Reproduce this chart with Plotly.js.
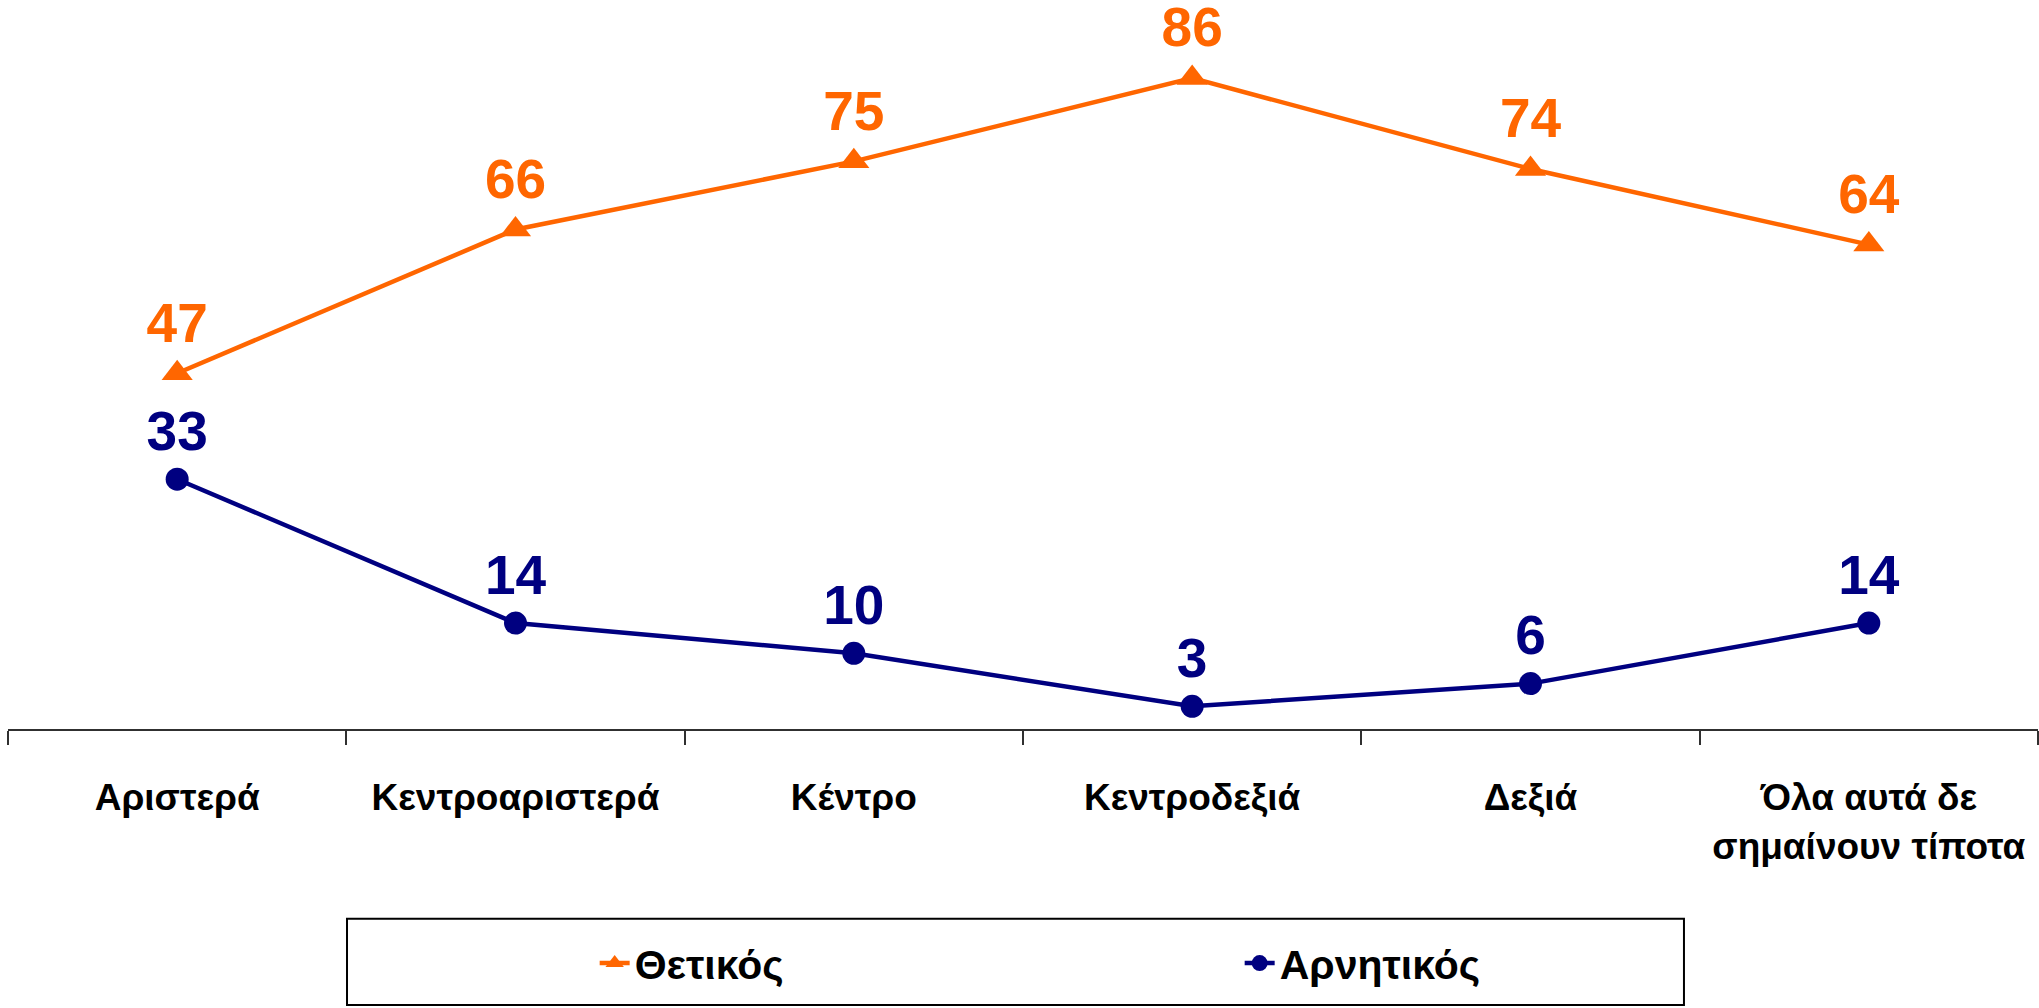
<!DOCTYPE html>
<html>
<head>
<meta charset="utf-8">
<script src="https://cdn.plot.ly/plotly-3.0.1.min.js"></script>
<style>
  html, body { margin: 0; padding: 0; background: #fff; }
  #chart { width: 2039px; height: 1008px; }
</style>
</head>
<body>
<div id="chart"></div>
<script>
const FONT_FAMILY = 'Liberation Sans, Arial, sans-serif';

const categories = [
  'Αριστερά',
  'Κεντροαριστερά',
  'Κέντρο',
  'Κεντροδεξιά',
  'Δεξιά',
  'Όλα αυτά δε<br>σημαίνουν τίποτα',
];
const positive = [47, 66, 75, 86, 74, 64];
const negative = [33, 14, 10, 3, 6, 14];
const seriesNames = ['Θετικός', 'Αρνητικός'];

const ORANGE = '#FF6600';
const NAVY = '#000080';

function labelFont(color) {
  return {family: FONT_FAMILY, size: 55, color: color, weight: 'bold'};
}

const traces = [
  {
    x: categories,
    y: positive,
    name: seriesNames[0],
    type: 'scatter',
    mode: 'lines+markers+text',
    text: positive.map(String),
    textposition: 'top center',
    textfont: labelFont(ORANGE),
    line: {color: ORANGE, width: 4.5},
    marker: {symbol: 'triangle-up', size: 27, color: ORANGE},
    cliponaxis: false,
    hoverinfo: 'x+y',
  },
  {
    x: categories,
    y: negative,
    name: seriesNames[1],
    type: 'scatter',
    mode: 'lines+markers+text',
    text: negative.map(String),
    textposition: 'top center',
    textfont: labelFont(NAVY),
    line: {color: NAVY, width: 4.5},
    marker: {symbol: 'circle', size: 23, color: NAVY},
    cliponaxis: false,
    hoverinfo: 'x+y',
  },
];

// plot area: x 8..2038 px, y 10..729 px
const layout = {
  width: 2039,
  height: 1008,
  margin: {l: 8, r: 1, t: 10, b: 279},
  paper_bgcolor: '#fff',
  plot_bgcolor: '#fff',
  showlegend: true,
  legend: {
    orientation: 'h',
    x: 0.289,
    xanchor: 'left',
    y: -0.326,
    yanchor: 'middle',
    entrywidth: 600,
    font: {family: FONT_FAMILY, size: 41, color: '#000', weight: 'bold'},
    bgcolor: 'rgba(0,0,0,0)',
    borderwidth: 0,
  },
  xaxis: {
    type: 'category',
    range: [-0.5, 5.5],
    showline: true,
    linecolor: '#303030',
    linewidth: 2,
    ticks: 'outside',
    tickson: 'boundaries',
    ticklen: 14,
    tickwidth: 2,
    tickcolor: '#303030',
    tickangle: 0,
    showgrid: false,
    zeroline: false,
    tickfont: {family: FONT_FAMILY, size: 37, color: '#000', weight: 'bold'},
    ticklabelstandoff: 35,
    fixedrange: true,
  },
  yaxis: {
    range: [0, 95],
    visible: false,
    showgrid: false,
    zeroline: false,
    fixedrange: true,
  },
  shapes: [{
    type: 'rect',
    xref: 'paper',
    yref: 'paper',
    x0: 0.167,
    x1: 0.8256,
    y0: -0.384,
    y1: -0.264,
    line: {color: '#000', width: 2},
    fillcolor: 'rgba(0,0,0,0)',
  }],
};

Plotly.newPlot('chart', traces, layout, {displayModeBar: false, staticPlot: true});
</script>
</body>
</html>
